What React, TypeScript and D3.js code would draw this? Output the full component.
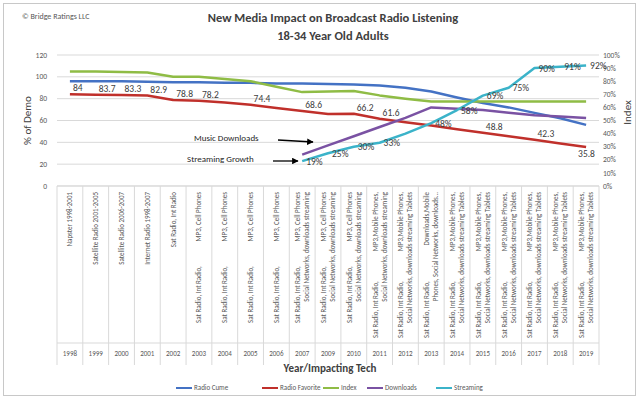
import { useEffect, useRef } from 'react';
import { select, scaleBand, scaleLinear, line } from 'd3';

const years = ['1998','1999','2000','2001','2002','2003','2004','2005','2006','2007','2009','2010','2011','2012','2013','2014','2015','2016','2017','2018','2019'];

// each label: lines; each line: [topPart, bottomPart?]
const SR = 'Sat Radio, Int Radio,';
const techLabels: string[][][] = [
  [['Napster 1998-2001']],
  [['Satellite Radio 2001-2005']],
  [['Satellite Radio 2006-2007']],
  [['Internet Radio 1998-2007']],
  [['Sat Radio, Int Radio']],
  [['MP3, Cell Phones', SR]],
  [['MP3, Cell Phones', SR]],
  [['MP3, Cell Phones', SR]],
  [['MP3, Cell Phones', SR]],
  [['MP3, Cell Phones', SR], ['Social Networks, downloads streaming']],
  [['MP3, Cell Phones', SR], ['Social Networks, downloads streaming']],
  [['MP3, Cell Phones', SR], ['Social Networks, downloads streaming']],
  [['MP3,Mobile Phones,', SR], ['Social Networks, downloads streaming']],
  [['MP3,Mobile Phones,', SR], ['Social Networks, downloads streaming Tablets']],
  [['Downloads,Mobile', SR], ['Phones, Social Networks, downloads...']],
  [['MP3,Mobile Phones,', SR], ['Social Networks, downloads streaming Tablets']],
  [['MP3,Mobile Phones,', SR], ['Social Networks, downloads streaming Tablets']],
  [['MP3,Mobile Phones,', SR], ['Social Networks, downloads streaming Tablets']],
  [['MP3,Mobile Phones,', SR], ['Social Networks, downloads streaming Tablets']],
  [['MP3,Mobile Phones,', SR], ['Social Networks, downloads streaming Tablets']],
  [['MP3,Mobile Phones,', SR], ['Social Networks, downloads streaming Tablets']],
];

const radioCume = [96, 96, 96, 95.5, 95, 95, 94.5, 94.5, 94, 94, 93.5, 93, 92, 90, 86.5, 81, 76, 72, 67, 62, 56];
const radioFavorite = [84, 83.7, 83.3, 82.9, 78.8, 78.2, 76.5, 74.4, 71.5, 68.6, 66, 66.2, 61.6, 58.5, 55.5, 52, 48.8, 45.5, 42.3, 39, 35.8];
const favoriteLabeled = [0, 1, 2, 3, 4, 5, 7, 9, 11, 12, 16, 18, 20];
const indexVals = [105, 105, 104.5, 104, 100, 100, 98, 96, 91, 86, 86.5, 87, 83, 80, 77.5, 77.5, 77.5, 77.5, 77.5, 77.5, 77.5];
// percent series (right axis), start at 2007
const downloads: (number | null)[] = [null, null, null, null, null, null, null, null, null, 24, 31, 38, 45, 52, 60, 59, 58, 56, 54, 53, 52];
const streaming: (number | null)[] = [null, null, null, null, null, null, null, null, null, 19, 25, 30, 33, 40, 48, 58, 69, 75, 90, 91, 92];
const streamingLabeled = [9, 10, 11, 12, 14, 15, 16, 17, 18, 19, 20];

const leftTicks = [0, 20, 40, 60, 80, 100, 120];
const rightTicks = [0, 10, 20, 30, 40, 50, 60, 70, 80, 90, 100];

const series = [
  { name: 'Radio Cume', color: '#4472c4' },
  { name: 'Radio Favorite', color: '#c0302b' },
  { name: 'Index', color: '#8fbc45' },
  { name: 'Downloads', color: '#7a52a3' },
  { name: 'Streaming', color: '#3bb3c9' },
];

export default function App() {
  const ref = useRef<SVGSVGElement | null>(null);

  useEffect(() => {
    document.body.style.margin = '0';
    const svg = select(ref.current!);
    svg.selectAll('*').remove();
    const W = 640, H = 400;
    const left = 57, right = 599, top = 55, bottom = 186;
    const txt = '#595959';
    const font = 'Calibri, Carlito, "Liberation Sans", Arial, sans-serif';

    svg.append('rect').attr('x', 3.5).attr('y', 3.5).attr('width', W - 8).attr('height', H - 8)
      .attr('fill', '#fff').attr('stroke', '#c8c8c8');

    const x = scaleBand<string>().domain(years).range([left, right]);
    const cx = (i: number) => (x(years[i]) ?? 0) + x.bandwidth() / 2;
    const y = scaleLinear().domain([0, 120]).range([bottom, top]);
    const yr = scaleLinear().domain([0, 100]).range([bottom, top]);

    // grid
    svg.append('g').selectAll('line').data(leftTicks).join('line')
      .attr('x1', left).attr('x2', right).attr('y1', (d) => y(d)).attr('y2', (d) => y(d))
      .attr('stroke', '#d9d9d9');
    svg.append('g').selectAll('text').data(leftTicks).join('text')
      .attr('x', left - 10).attr('y', (d) => y(d)).attr('dy', '0.35em').attr('text-anchor', 'end')
      .attr('font-size', 7.5).attr('font-family', font).attr('fill', txt).text((d) => d);
    svg.append('g').selectAll('text').data(rightTicks).join('text')
      .attr('x', right + 4).attr('y', (d) => yr(d)).attr('dy', '0.35em')
      .attr('font-size', 7.5).attr('font-family', font).attr('fill', txt).text((d) => `${d}%`);

    // category table
    const tableBottom = 365;
    svg.append('g').selectAll('line').data([...years.map((_, i) => i), years.length]).join('line')
      .attr('x1', (i) => left + i * x.bandwidth()).attr('x2', (i) => left + i * x.bandwidth())
      .attr('y1', bottom).attr('y2', tableBottom).attr('stroke', '#d9d9d9');
    svg.append('line').attr('x1', left).attr('x2', right).attr('y1', bottom).attr('y2', bottom).attr('stroke', '#d9d9d9');
    svg.append('line').attr('x1', left).attr('x2', right).attr('y1', 343).attr('y2', 343).attr('stroke', '#d9d9d9');
    svg.append('g').selectAll('text').data(years).join('text')
      .attr('x', (_, i) => cx(i)).attr('y', 354).attr('dy', '0.35em').attr('text-anchor', 'middle')
      .attr('font-size', 7).attr('font-family', font).attr('fill', txt).text((d) => d);

    techLabels.forEach((lines, i) => {
      const n = lines.length;
      lines.forEach((parts, j) => {
        const px = cx(i) + (j - (n - 1) / 2) * 9 + 2.5;
        svg.append('text').attr('transform', `translate(${px},192) rotate(-90)`)
          .attr('text-anchor', 'end').attr('font-size', 7).attr('font-family', font).attr('fill', txt)
          .text(parts[0]);
        if (parts[1]) {
          svg.append('text').attr('transform', `translate(${px},${n > 1 && i >= 12 ? 338 : 323}) rotate(-90)`)
            .attr('text-anchor', 'start').attr('font-size', 7).attr('font-family', font).attr('fill', txt)
            .text(parts[1]);
        }
      });
    });

    // lines
    const mk = (vals: (number | null)[], sc: (v: number) => number, color: string) => {
      const gen = line<number | null>()
        .defined((d) => d !== null)
        .x((_, i) => cx(i))
        .y((d) => sc(d as number));
      svg.append('path').attr('d', gen(vals) ?? '').attr('fill', 'none')
        .attr('stroke', color).attr('stroke-width', 2.5).attr('stroke-linejoin', 'round');
    };
    mk(radioCume, y, series[0].color);
    mk(radioFavorite, y, series[1].color);
    mk(indexVals, y, series[2].color);
    mk(downloads, yr, series[3].color);
    mk(streaming, yr, series[4].color);

    const lab = '#404040';
    svg.append('g').selectAll('text').data(favoriteLabeled).join('text')
      .attr('x', (i) => cx(i) + (i === 20 ? -8 : 3)).attr('y', (i) => y(radioFavorite[i]) + (i === 20 ? 10 : -3))
      .attr('font-size', 9.5).attr('font-family', font).attr('fill', lab).text((i) => radioFavorite[i]);
    svg.append('g').selectAll('text').data(streamingLabeled).join('text')
      .attr('x', (i) => cx(i) + 4).attr('y', (i) => yr(streaming[i] as number) + 3.5)
      .attr('font-size', 9.5).attr('font-family', font).attr('fill', lab).text((i) => `${streaming[i]}%`);

    // annotations
    svg.append('defs').append('marker').attr('id', 'arr').attr('viewBox', '0 0 10 10').attr('refX', 9).attr('refY', 5)
      .attr('markerWidth', 5).attr('markerHeight', 5).attr('orient', 'auto')
      .append('path').attr('d', 'M0,0L10,5L0,10z').attr('fill', '#000');
    const ann = [
      { t: 'Music Downloads', tx: 194, ty: 141, x1: 278, x2: 313, y1: 140, y2: 142 },
      { t: 'Streaming Growth', tx: 187, ty: 162, x1: 273, x2: 298, y1: 161, y2: 161 },
    ];
    ann.forEach((a) => {
      svg.append('text').attr('x', a.tx).attr('y', a.ty).attr('font-size', 9).attr('font-family', font).attr('fill', '#262626').text(a.t);
      svg.append('line').attr('x1', a.x1).attr('x2', a.x2).attr('y1', a.y1).attr('y2', a.y2)
        .attr('stroke', '#000').attr('stroke-width', 1.3).attr('marker-end', 'url(#arr)');
    });

    // titles
    svg.append('text').attr('x', 22).attr('y', 19).attr('font-size', 8).attr('font-family', font).attr('fill', txt).text('© Bridge Ratings LLC');
    svg.append('text').attr('x', 333).attr('y', 22).attr('text-anchor', 'middle').attr('font-size', 12.5).attr('font-weight', 'bold')
      .attr('font-family', font).attr('fill', '#404040').text('New Media Impact on Broadcast Radio Listening');
    svg.append('text').attr('x', 333).attr('y', 40).attr('text-anchor', 'middle').attr('font-size', 12.5).attr('font-weight', 'bold')
      .attr('font-family', font).attr('fill', '#404040').text('18-34 Year Old Adults');
    svg.append('text').attr('transform', `translate(31,${(top + bottom) / 2}) rotate(-90)`).attr('text-anchor', 'middle')
      .attr('font-size', 11).attr('font-family', font).attr('fill', '#404040').text('% of Demo');
    svg.append('text').attr('transform', `translate(631,${(top + bottom) / 2 - 8}) rotate(-90)`).attr('text-anchor', 'middle')
      .attr('font-size', 11).attr('font-family', font).attr('fill', '#404040').text('Index');
    svg.append('text').attr('x', 330).attr('y', 372).attr('text-anchor', 'middle').attr('font-size', 11).attr('font-weight', 'bold')
      .attr('font-family', font).attr('fill', '#404040').text('Year/Impacting Tech');

    // legend
    const lx = [176, 262, 323, 367, 436];
    series.forEach((s, i) => {
      svg.append('line').attr('x1', lx[i]).attr('x2', lx[i] + 16).attr('y1', 398 - 10).attr('y2', 388)
        .attr('stroke', s.color).attr('stroke-width', 2);
      svg.append('text').attr('x', lx[i] + 18).attr('y', 388).attr('dy', '0.35em').attr('font-size', 7)
        .attr('font-family', font).attr('fill', txt).text(s.name);
    });
  }, []);

  return <svg ref={ref} width={640} height={400} style={{ display: 'block' }} />;
}
